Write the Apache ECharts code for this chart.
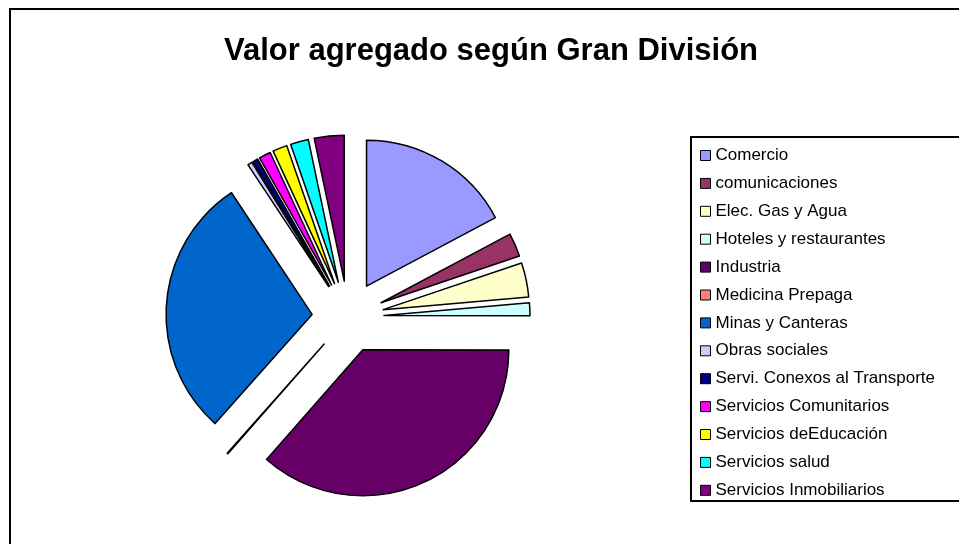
<!DOCTYPE html>
<html>
<head>
<meta charset="utf-8">
<script src="https://cdn.jsdelivr.net/npm/echarts@6/dist/echarts.min.js"></script>
<style>html,body{margin:0;padding:0;background:#fff;}#c{width:959px;height:544px;}</style>
</head>
<body>
<div id="c"></div>
<script>
const categories = ["Comercio","comunicaciones","Elec. Gas y Agua","Hoteles y restaurantes","Industria","Medicina Prepaga","Minas y Canteras","Obras sociales","Servi. Conexos al Transporte","Servicios Comunitarios","Servicios deEducación","Servicios salud","Servicios Inmobiliarios"];
const values = [17.2, 2.6, 3.8, 1.4, 36.4, 0.1, 29.1, 0.5, 0.6, 1.3, 1.6, 2.0, 3.3];
const colors = ["#9999FF","#993366","#FFFFCC","#CCFFFF","#660066","#FF8080","#0066CC","#CCCCFF","#000080","#FF00FF","#FFFF00","#00FFFF","#800080"];
const titleText = "Valor agregado según Gran División";

const chart = echarts.init(document.getElementById('c'), null, {renderer: 'canvas'});
const data = categories.map((n, i) => ({
  name: n, value: values[i], selected: true,
  itemStyle: {color: colors[i]}
}));
chart.setOption({
  animation: false,
  backgroundColor: '#fff',
  title: {
    text: titleText, left: 491, top: 36, textAlign: 'center', padding: 0,
    textStyle: {fontFamily: 'Liberation Sans, Arial', fontWeight: 'bold', fontSize: 31, color: '#000'}
  },
  graphic: [
    {type: 'rect', shape: {x: 10, y: 9, width: 1000, height: 600}, style: {fill: null, stroke: '#000', lineWidth: 2}, silent: true},
    {type: 'rect', shape: {x: 691, y: 137, width: 400, height: 364}, style: {fill: null, stroke: '#000', lineWidth: 2}, silent: true}
  ],
  legend: {
    orient: 'vertical', left: 700, top: 147, padding: 0,
    itemWidth: 10, itemHeight: 10, itemGap: 10.9,
    icon: 'rect', selectedMode: false,
    itemStyle: {borderColor: '#000', borderWidth: 1},
    textStyle: {fontFamily: 'Liberation Sans, Arial', fontSize: 17, lineHeight: 17, color: '#000'},
    data: categories
  },
  series: [{
    type: 'pie',
    center: [348, 317],
    radius: [0, 146],
    startAngle: 90,
    clockwise: true,
    minAngle: 0,
    avoidLabelOverlap: false,
    selectedMode: 'multiple',
    selectedOffset: 36,
    label: {show: false},
    labelLine: {show: false},
    itemStyle: {borderColor: '#000', borderWidth: 1.5},
    emphasis: {disabled: true, scale: false},
    select: {itemStyle: {borderColor: '#000', borderWidth: 1.5}},
    data: data
  }]
});
</script>
</body>
</html>
